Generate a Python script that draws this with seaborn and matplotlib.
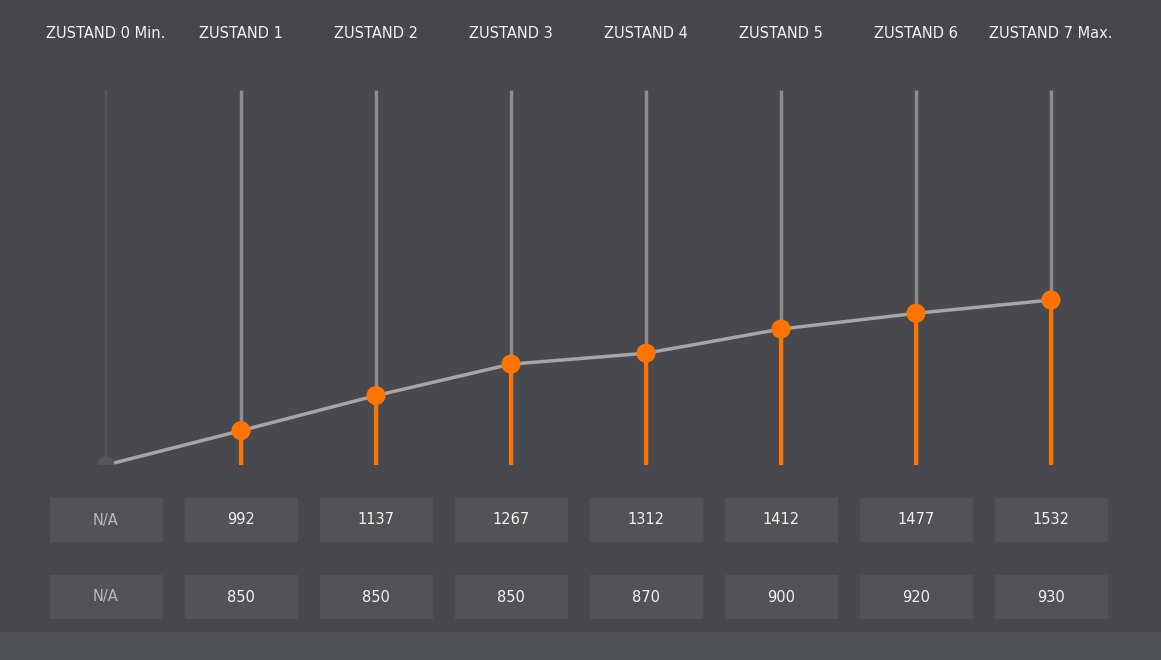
"""
Zustand chart: orange stems per state with a connecting gray line and
two rows of value cells below.  Saved to out.png.
"""

import pandas as pd
import matplotlib.pyplot as plt
import seaborn as sns
from matplotlib.patches import Rectangle

# Data
states = ["ZUSTAND 0 Min.", "ZUSTAND 1", "ZUSTAND 2", "ZUSTAND 3",
          "ZUSTAND 4", "ZUSTAND 5", "ZUSTAND 6", "ZUSTAND 7 Max."]
upper_values = [None, 992, 1137, 1267, 1312, 1412, 1477, 1532]
lower_values = [None, 850, 850, 850, 870, 900, 920, 930]

Y_MIN, Y_MAX = 850, 2400

BG = "#47494e"
HEADER_BG = "#45474b"
FOOT_BG = "#4d5054"
CELL_BG = "#535257"
ORANGE = "#ff7300"
STEM_GRAY = "#8c8c8c"
LINE_GRAY = "#a6a6a6"
TEXT = "#f2f2f2"
NA_TEXT = "#b8b8bc"

sns.set_theme(style="white")
plt.rcParams["font.family"] = ["DejaVu Sans"]

W, H = 1161, 660
fig = plt.figure(figsize=(W / 100, H / 100), dpi=100)
fig.patch.set_facecolor(BG)

# background bands
bg = fig.add_axes([0, 0, 1, 1])
bg.set_xlim(0, W)
bg.set_ylim(H, 0)
bg.axis("off")
bg.add_patch(Rectangle((0, 0), W, 72, color=HEADER_BG, lw=0))
bg.add_patch(Rectangle((0, 632), W, 28, color=FOOT_BG, lw=0))

n = len(states)
x_left, step = 106, 135
ax_l = (x_left - step / 2) / W
ax_w = step * n / W

# main chart axes: y from px 465 (bottom) to px 90 (top)
ax = fig.add_axes([ax_l, 1 - 465 / H, ax_w, 375 / H])
ax.set_facecolor("none")
ax.set_xlim(-0.5, n - 0.5)
ax.set_ylim(Y_MIN, Y_MAX)
ax.axis("off")

df = pd.DataFrame({
    "pos": range(n),
    "state": states,
    "value": [Y_MIN if v is None else v for v in upper_values],
    "na": [v is None for v in upper_values],
})
valid = df[~df["na"]]
missing = df[df["na"]]

# background gray rails
ax.vlines(valid["pos"], Y_MIN, Y_MAX, color=STEM_GRAY, lw=2.5, zorder=1)
ax.vlines(missing["pos"], Y_MIN, Y_MAX, color="#55575b", lw=1.5, zorder=1)
# orange stems
ax.vlines(valid["pos"], Y_MIN, valid["value"], color=ORANGE, lw=3, zorder=2)

sns.lineplot(data=df, x="pos", y="value", color=LINE_GRAY, lw=2.5,
             ax=ax, zorder=3, legend=False)
sns.scatterplot(data=missing, x="pos", y="value", color="#55575b", s=150,
                edgecolor="none", ax=ax, zorder=4, legend=False)
sns.scatterplot(data=valid, x="pos", y="value", color=ORANGE, s=190,
                edgecolor="none", ax=ax, zorder=4, legend=False)

# header labels and value cells
tbl = fig.add_axes([ax_l, 0, ax_w, 1])
tbl.set_facecolor("none")
tbl.set_xlim(-0.5, n - 0.5)
tbl.set_ylim(H, 0)
tbl.axis("off")

cell_w = 113 / step
for i, name in enumerate(states):
    tbl.text(i, 34, name, ha="center", va="center", color=TEXT, fontsize=10.5)
    for row_y, vals in ((520, upper_values), (597, lower_values)):
        tbl.add_patch(Rectangle((i - cell_w / 2, row_y - 22), cell_w, 44,
                                color=CELL_BG, lw=0))
        v = vals[i]
        label = "N/A" if v is None else str(v)
        tbl.text(i, row_y, label, ha="center", va="center", fontsize=10.5,
                 color=NA_TEXT if v is None else TEXT)

fig.savefig("out.png", dpi=100, facecolor=fig.get_facecolor())
